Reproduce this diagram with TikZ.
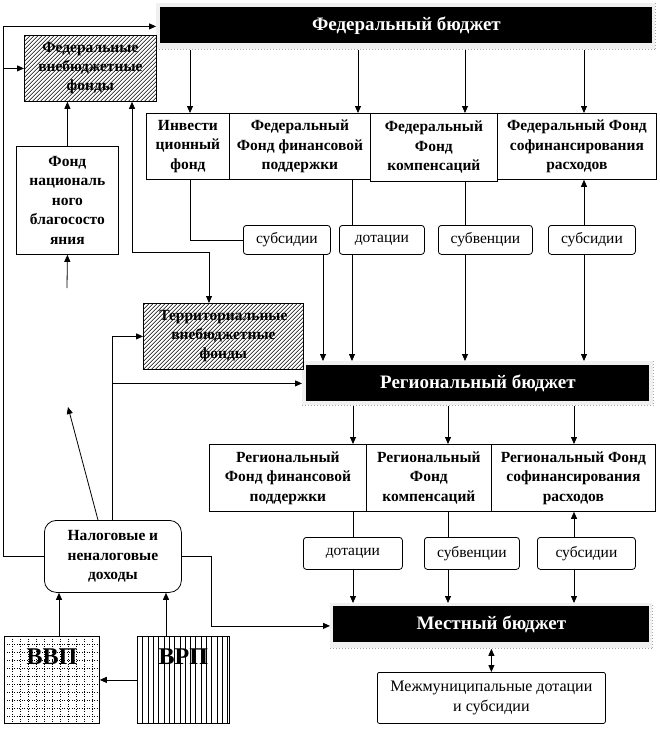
\documentclass[tikz,border=0pt]{standalone}
\usepackage{fontspec}
\setmainfont{Liberation Serif}
\usetikzlibrary{arrows.meta,calc}
\begin{document}
\begin{tikzpicture}[x=1pt,y=-1pt,line width=0.8pt,
  arr/.style={-{Triangle[length=7pt,width=6pt]}},
  darr/.style={{Triangle[length=7pt,width=6pt]}-{Triangle[length=7pt,width=6pt]}},
  fundbox/.style={draw,fill=white,anchor=north west,inner sep=0pt,align=center,
    font=\fontsize{15.5}{19.5}\selectfont\bfseries},
  lblbox/.style={draw,fill=white,rounded corners=3pt,anchor=north west,inner sep=0pt,align=center,
    font=\fontsize{15.5}{19}\selectfont},
  frm/.style={fill=gray!12,anchor=north west,inner sep=0pt},
  blk/.style={fill=black,text=white,anchor=north west,inner sep=0pt,
    font=\fontsize{19}{22}\selectfont\bfseries},
  hatchbox/.style={draw,anchor=north west,inner sep=0pt,align=center,
    font=\fontsize{15.5}{19}\selectfont\bfseries,
    path picture={\foreach \i in {0,4,...,260}
      \draw[line width=0.5pt] ($(path picture bounding box.south west)+(\i-100,0)$) -- ++(100,-100);}},
  gridbox/.style={draw,anchor=north west,inner sep=0pt,
    path picture={\foreach \i in {0,8,...,100}{
      \draw[line width=0.5pt,dotted] ($(path picture bounding box.north west)+(\i,0)$) -- ++(0,100);
      \draw[line width=0.5pt,dotted] ($(path picture bounding box.north west)+(0,\i)$) -- ++(100,0);}}},
  vlinebox/.style={draw,anchor=north west,inner sep=0pt,
    path picture={\foreach \i in {0,5.3,...,100}
      \draw[line width=0.5pt] ($(path picture bounding box.north west)+(\i,0)$) -- ++(0,100);}},
  bigtxt/.style={font=\fontsize{24}{26}\selectfont\bfseries,inner sep=0.5pt}
]
\useasboundingbox[fill=white] (0,0) rectangle (660,729);

% ---- budgets (frames + black boxes)
\node[frm,minimum width=499,minimum height=46] (fed) at (156,3) {};
\draw[gray!70,dotted,line width=1pt] (fed.south west) -- (fed.south east) -- (fed.north east);
\node[blk,minimum width=492,minimum height=36] (fedB) at (160,7) {Федеральный бюджет};

\node[frm,minimum width=351,minimum height=44] (reg) at (302,361) {};
\draw[gray!70,dotted,line width=1pt] (reg.south west) -- (reg.south east) -- (reg.north east);
\node[blk,minimum width=343,minimum height=36] (regB) at (306,365) {Региональный бюджет};

\node[frm,minimum width=322,minimum height=45] (loc) at (330,603) {};
\draw[gray!70,dotted,line width=1pt] (loc.south west) -- (loc.south east) -- (loc.north east);
\node[blk,minimum width=316,minimum height=36] (locB) at (333,606) {Местный бюджет};

% ---- federal funds
\node[fundbox,minimum width=83,minimum height=66] (inv) at (146,113) {Инвести\\ционный\\фонд};
\node[fundbox,minimum width=141,minimum height=66] (fin) at (229,113) {Федеральный\\Фонд финансовой\\поддержки};
\node[fundbox,minimum width=127,minimum height=68] (comp) at (370,113) {Федеральный\\Фонд\\компенсаций};
\node[fundbox,minimum width=159,minimum height=66] (cof) at (497,113) {Федеральный Фонд\\софинансирования\\расходов};

% ---- regional funds
\node[fundbox,minimum width=157,minimum height=67] (rfin) at (209,444) {Региональный\\Фонд финансовой\\поддержки};
\node[fundbox,minimum width=125,minimum height=67] (rcomp) at (366,444) {Региональный\\Фонд\\компенсаций};
\node[fundbox,minimum width=164,minimum height=67] (rcof) at (491,444) {Региональный Фонд\\софинансирования\\расходов};

% ---- labels row 1
\node[lblbox,minimum width=87,minimum height=29] (sub1) at (243,225) {субсидии};
\node[lblbox,minimum width=85,minimum height=29] (dot1) at (339,225) {дотации};
\node[lblbox,minimum width=94,minimum height=29] (subv1) at (438,225) {субвенции};
\node[lblbox,minimum width=87,minimum height=29] (sub2) at (548,225) {субсидии};
% ---- labels row 2
\node[lblbox,minimum width=99,minimum height=32] (dot2) at (303,537) {дотации};
\node[lblbox,minimum width=95,minimum height=32] (subv2) at (424,537) {субвенции};
\node[lblbox,minimum width=98,minimum height=32] (sub3) at (537,537) {субсидии};

\node[lblbox,rounded corners=2pt,minimum width=228,minimum height=51,
  font=\fontsize{16}{20}\selectfont] (mezh) at (377,672)
  {Межмуниципальные дотации\\и субсидии};

% ---- left side
\node[hatchbox,minimum width=132,minimum height=66] (fvf) at (24,35) {Федеральные\\внебюджетные\\фонды};
\node[fundbox,minimum width=102,minimum height=108] (fnb) at (16,146) {Фонд\\националь\\ного\\благососто\\яния};
\node[hatchbox,minimum width=160,minimum height=66] (terr) at (143,303) {Территориальные\\внебюджетные\\фонды};
\node[fundbox,rounded corners=12pt,minimum width=137,minimum height=72] (nal) at (44,520) {Налоговые и\\неналоговые\\доходы};

\node[gridbox,minimum width=95,minimum height=87] (vvp) at (4,636) {};
\node[bigtxt] (vvpT) at ($(vvp.north)+(0,21)$) {ВВП};
\node[vlinebox,minimum width=92,minimum height=87] (vrp) at (137,636) {};
\node[bigtxt] (vrpT) at ($(vrp.north)+(0,21)$) {ВРП};

% ---- helper coordinates
\coordinate (xa) at (190,0);
\coordinate (xb) at (358,0);
\coordinate (xc) at (465,0);
\coordinate (xd) at (584,0);
\coordinate (xe) at (323,0);
\coordinate (xf) at (352,0);
\coordinate (xg) at (353,0);
\coordinate (xh) at (448,0);
\coordinate (xi) at (574,0);
\coordinate (xL) at (3,0);
\coordinate (xk) at (132,0);
\coordinate (yk) at (0,252);
\coordinate (xt) at (209,0);
\coordinate (xn) at (112,0);
\coordinate (xq) at (98,0);
\coordinate (dg) at (68,407);
\coordinate (fa) at (67,288);
\coordinate (xm) at (211,0);
\coordinate (xv) at (59,0);
\coordinate (xr) at (166,0);

% ---- federal connectors
\draw[arr] (fed.south -| xa) -- (inv.north -| xa);
\draw[arr] (fed.south -| xb) -- (fin.north -| xb);
\draw[arr] (fed.south -| xc) -- (comp.north -| xc);
\draw[arr] (fed.south -| xd) -- (cof.north -| xd);
\draw (inv.south -| xa) |- (sub1.west);
\draw[arr] (sub1.south -| xe) -- (reg.north -| xe);
\draw (fin.south -| xf) -- (dot1.north -| xf);
\draw[arr] (dot1.south -| xf) -- (reg.north -| xf);
\draw (comp.south -| xc) -- (subv1.north -| xc);
\draw[arr] (subv1.south -| xc) -- (reg.north -| xc);
\draw[arr] (sub2.north -| xd) -- (cof.south -| xd);
\draw[arr] (sub2.south -| xd) -- (reg.north -| xd);

% ---- regional connectors
\draw[arr] (reg.south -| xg) -- (rfin.north -| xg);
\draw[arr] (reg.south -| xh) -- (rcomp.north -| xh);
\draw[arr] (reg.south -| xi) -- (rcof.north -| xi);
\draw (rfin.south -| xg) -- (dot2.north -| xg);
\draw[arr] (dot2.south -| xg) -- (loc.north -| xg);
\draw (rcomp.south -| xh) -- (subv2.north -| xh);
\draw[arr] (subv2.south -| xh) -- (loc.north -| xh);
\draw[arr] (sub3.north -| xi) -- (rcof.south -| xi);
\draw[arr] (sub3.south -| xi) -- (loc.north -| xi);
\draw[darr] (loc.south -| mezh.north) -- (mezh.north);

% ---- left connectors
\draw[arr] (nal.west) -| (xL |- fed.west) -- (fed.west);
\draw[arr] (xL |- fvf.west) -- (fvf.west);
\draw[arr] (fnb.north) -- (fvf.south -| fnb.north);
\draw[arr] (fa) -- (fnb.south);
\draw[darr] (fvf.south -| xk) |- (xt |- yk) -- (terr.north -| xt);
\draw[arr] (nal.north -| xn) |- (terr.west);
\draw[arr] (xn |- reg.west) -- (reg.west);
\draw[arr] (nal.north -| xq) -- (dg);
\draw[arr] (nal.east) -| (xm |- loc.west) -- (loc.west);
\draw[arr] (vvp.north -| xv) -- (nal.south -| xv);
\draw[arr] (vrp.north -| xr) -- (nal.south -| xr);
\draw[arr] (vrp.west) -- (vvp.east);
\end{tikzpicture}
\end{document}
